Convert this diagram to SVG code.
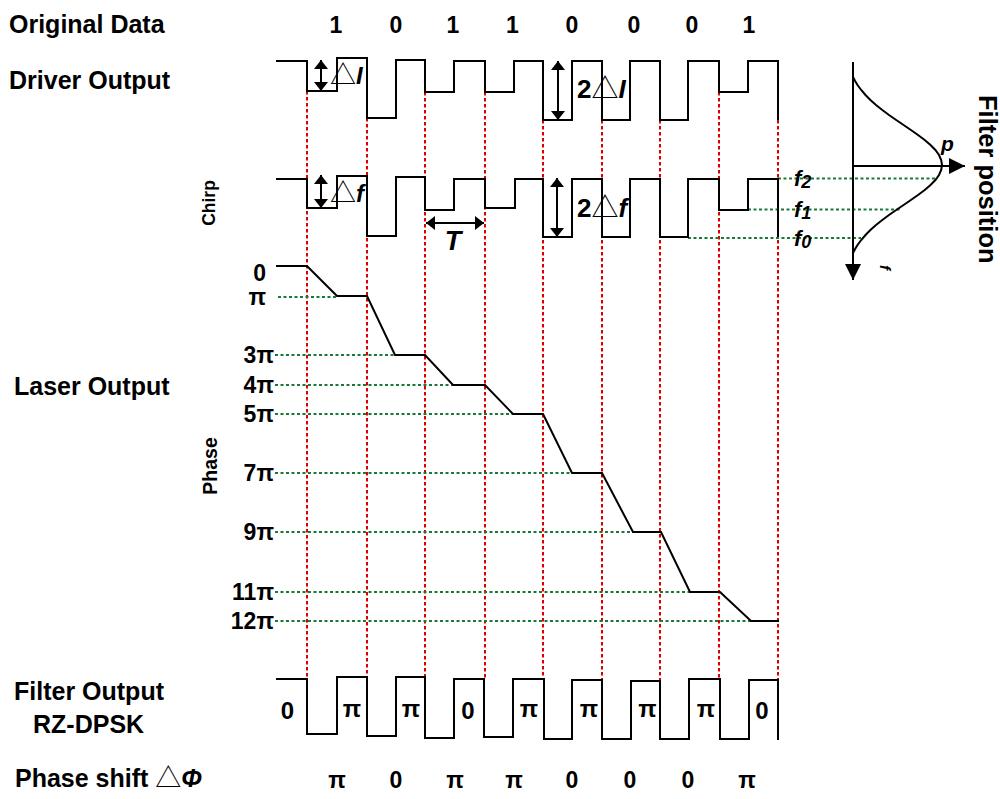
<svg xmlns="http://www.w3.org/2000/svg" width="1000" height="799" viewBox="0 0 1000 799">
<style>
text{font-family:"Liberation Sans",Arial,sans-serif;font-weight:bold;fill:#000}
.lbl{font-size:25px}
.bit{font-size:23px;text-anchor:middle}
.ph{font-size:23px;text-anchor:end}
.fo{font-size:24px;text-anchor:middle}
.it{font-style:italic}
.tri{font-family:"Noto Sans CJK SC","DejaVu Sans",sans-serif;font-weight:normal;font-style:normal}
.sig{fill:none;stroke:#000;stroke-width:2}
.red{fill:none;stroke:#dd0000;stroke-width:2;stroke-dasharray:3.5 2.5}
.grn{fill:none;stroke:#1a7a35;stroke-width:1.8;stroke-dasharray:3 2.5}
.arr{fill:none;stroke:#000;stroke-width:2;marker-start:url(#ah);marker-end:url(#ah)}
</style>
<defs>
<marker id="ah" viewBox="0 0 10 10" refX="10" refY="5" markerWidth="9" markerHeight="14" markerUnits="userSpaceOnUse" orient="auto-start-reverse" preserveAspectRatio="none"><path d="M0,0 L10,5 L0,10 z" fill="#000"/></marker>
<marker id="ahb" viewBox="0 0 10 10" refX="10" refY="5" markerWidth="16" markerHeight="16" markerUnits="userSpaceOnUse" orient="auto" preserveAspectRatio="none"><path d="M0,0 L10,5 L0,10 z" fill="#000"/></marker>
</defs>

<g id="row-labels">
<text class="lbl" x="9" y="33">Original Data</text>
<text class="lbl" x="9" y="89">Driver Output</text>
<text class="lbl" x="14" y="395">Laser Output</text>
<text class="lbl" x="14" y="700">Filter Output</text>
<text class="lbl" x="33" y="733">RZ-DPSK</text>
<text class="lbl" x="15" y="787">Phase shift <tspan class="tri" font-size="26">△</tspan><tspan class="it">Φ</tspan></text>
<text font-size="17.5" text-anchor="middle" transform="translate(215,203) rotate(-90)">Chirp</text>
<text font-size="19.5" text-anchor="middle" transform="translate(217,466) rotate(-90)">Phase</text>
</g>

<g id="data-bits">
<text class="bit" x="336" y="33">1</text>
<text class="bit" x="396" y="33">0</text>
<text class="bit" x="453" y="33">1</text>
<text class="bit" x="512.5" y="33">1</text>
<text class="bit" x="572" y="33">0</text>
<text class="bit" x="634" y="33">0</text>
<text class="bit" x="692" y="33">0</text>
<text class="bit" x="749" y="33">1</text>
</g>

<g id="connectors">
<g id="bit-boundaries">
<line class="red" x1="307" y1="91" x2="307" y2="679"/>
<line class="red" x1="367" y1="118" x2="367" y2="677"/>
<line class="red" x1="425" y1="92" x2="425" y2="677"/>
<line class="red" x1="485" y1="92" x2="485" y2="679"/>
<line class="red" x1="543" y1="120" x2="543" y2="679"/>
<line class="red" x1="602" y1="120" x2="602" y2="680"/>
<line class="red" x1="660" y1="120" x2="660" y2="681"/>
<line class="red" x1="719" y1="92" x2="719" y2="679"/>
<line class="red" x1="778" y1="120" x2="778" y2="680"/>
</g>
<g id="level-guides">
<line class="grn" x1="278" y1="297" x2="337" y2="297"/>
<line class="grn" x1="275" y1="355" x2="395" y2="355"/>
<line class="grn" x1="275" y1="385" x2="453" y2="385"/>
<line class="grn" x1="275" y1="414" x2="513" y2="414"/>
<line class="grn" x1="275" y1="473" x2="572" y2="473"/>
<line class="grn" x1="275" y1="532" x2="633" y2="532"/>
<line class="grn" x1="275" y1="592" x2="690" y2="592"/>
<line class="grn" x1="275" y1="621" x2="751" y2="621"/>
<line class="grn" x1="778" y1="178.5" x2="937" y2="178.5"/>
<line class="grn" x1="748" y1="209.5" x2="900" y2="209.5"/>
<line class="grn" x1="688" y1="238" x2="861" y2="238"/>
</g>
<g id="dimension-arrows">
<line class="arr" x1="321" y1="60" x2="321" y2="91"/>
<line class="arr" x1="558" y1="61" x2="558" y2="120"/>
<line class="arr" x1="321" y1="175" x2="321" y2="208"/>
<line class="arr" x1="557" y1="178" x2="557" y2="237"/>
<line class="arr" x1="426" y1="223" x2="484" y2="223"/>
</g>
</g>

<g id="driver-output">
<path class="sig" d="M276,61 H307 V91 H337 V58 H367 V118 H396 V60 H425 V92 H454 V61 H485 V92 H514 V61 H543 V120 H572 V61 H602 V120 H630 V61 H660 V120 H688 V61 H719 V92 H748 V61 H778 V120"/>
<text font-size="24" x="330" y="84"><tspan class="tri" font-size="26">△</tspan><tspan class="it">I</tspan></text>
<text font-size="26" x="577" y="98">2<tspan class="tri" font-size="27">△</tspan><tspan class="it">I</tspan></text>
</g>

<g id="chirp">
<path class="sig" d="M276,179 H307 V208 H337 V176 H367 V236 H396 V177 H425 V210 H454 V179 H485 V208 H515 V179 H543 V237 H572 V179 H602 V237 H630 V179 H660 V237 H688 V179 H719 V210 H748 V179 H778 V237"/>
<text font-size="24" x="330" y="202"><tspan class="tri" font-size="26">△</tspan><tspan class="it">f</tspan></text>
<text font-size="26" x="577" y="217">2<tspan class="tri" font-size="27">△</tspan><tspan class="it">f</tspan></text>
<text class="it" font-size="27" text-anchor="middle" x="453" y="250">T</text>
</g>

<g id="phase">
<path class="sig" stroke-width="1.8" d="M276,266 H307 L337,296 H367 L395,355 H425 L453,385 H485 L513,414 H543 L572,473 H602 L633,532 H661 L690,592 H720 L751,621 H779"/>
<text class="ph" x="266" y="281">0</text>
<text class="ph" x="266" y="305">π</text>
<text class="ph" x="274" y="363">3π</text>
<text class="ph" x="274" y="393">4π</text>
<text class="ph" x="274" y="422">5π</text>
<text class="ph" x="274" y="481">7π</text>
<text class="ph" x="274" y="540">9π</text>
<text class="ph" x="274" y="600">11π</text>
<text class="ph" x="274" y="629">12π</text>
</g>

<g id="filter-position">
<line class="sig" x1="853" y1="62" x2="853" y2="280" marker-end="url(#ahb)"/>
<line class="sig" x1="853" y1="166" x2="965" y2="166" marker-end="url(#ahb)"/>
<polyline class="sig" stroke-width="1.6" points="853,77 855.1,81 857.5,85 861.2,90 865.5,95 870.4,100 876,105 882.3,110 889,115 896.2,120 903.6,125 910.9,130 918,135 924.7,140 930.5,145 935.4,150 939,155 941.2,160 942,165 941.2,170 939,175 935.4,180 930.5,185 924.7,190 918,195 910.9,200 903.6,205 896.2,210 889,215 882.3,220 876,225 870.4,230 865.5,235 861.2,240 857.5,245 855.1,249 853,253"/>
<text class="it" font-size="21" x="941" y="151">p</text>
<text class="it" font-size="22" x="794" y="186">f<tspan font-size="18" dy="2">2</tspan></text>
<text class="it" font-size="22" x="794" y="217">f<tspan font-size="18" dy="2">1</tspan></text>
<text class="it" font-size="22" x="794" y="246">f<tspan font-size="18" dy="2">0</tspan></text>
<text class="it" font-size="15" transform="translate(880,265) rotate(90)">f</text>
<text font-size="25.5" transform="translate(979,95) rotate(90)">Filter position</text>
</g>

<g id="filter-output">
<path class="sig" d="M276,679 H307 V734 H337 V677 H367 V736 H396 V677 H425 V738 H454 V679 H484 V737 H513 V679 H544 V739 H572 V680 H602 V739 H631 V681 H660 V739 H689 V679 H720 V739 H749 V680 H778 V740"/>
<text class="fo" x="287.5" y="719">0</text>
<text class="fo" x="352" y="717">π</text>
<text class="fo" x="411" y="717">π</text>
<text class="fo" x="468" y="719">0</text>
<text class="fo" x="529" y="717">π</text>
<text class="fo" x="589" y="717">π</text>
<text class="fo" x="647.5" y="717">π</text>
<text class="fo" x="706" y="717">π</text>
<text class="fo" x="762" y="719">0</text>
</g>

<g id="phase-shift">
<text class="bit" font-size="24" x="337" y="788">π</text>
<text class="bit" font-size="24" x="396" y="788">0</text>
<text class="bit" font-size="24" x="455" y="788">π</text>
<text class="bit" font-size="24" x="514" y="788">π</text>
<text class="bit" font-size="24" x="572" y="788">0</text>
<text class="bit" font-size="24" x="630" y="788">0</text>
<text class="bit" font-size="24" x="688" y="788">0</text>
<text class="bit" font-size="24" x="747" y="788">π</text>
</g>
</svg>
